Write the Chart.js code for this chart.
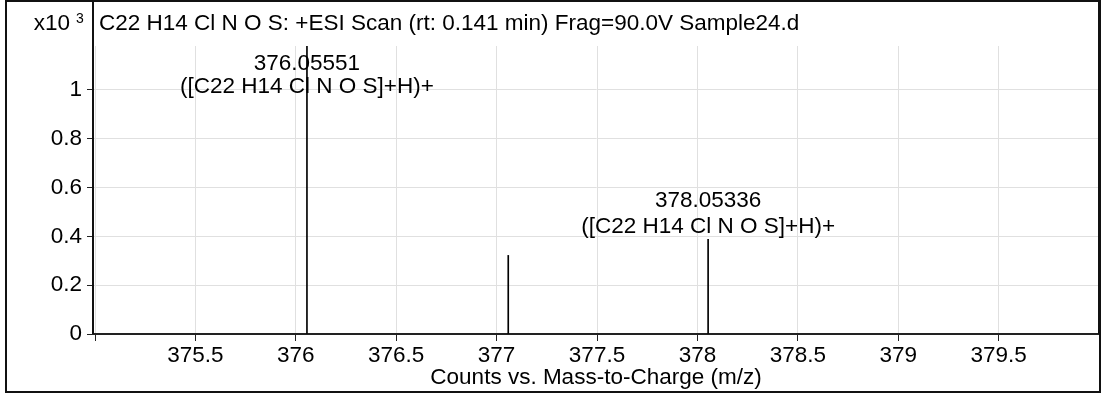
<!DOCTYPE html>
<html>
<head>
<meta charset="utf-8">
<title>+ESI Scan Sample24.d</title>
<script src="https://cdn.jsdelivr.net/npm/chart.js@4/dist/chart.umd.min.js"></script>
<style>
  html, body { margin: 0; padding: 0; background: #fff; }
  canvas { display: block; }
</style>
</head>
<body>
<canvas id="spectrum" width="1102" height="396"></canvas>
<script>
// Centroid peaks: m/z and abundance (counts, x10^3)
const peakMz = [376.05551, 377.058, 378.05336];
const peakCounts = [1.18, 0.322, 0.388];
const peakLabels = [
  ['376.05551', '([C22 H14 Cl N O S]+H)+'],
  null,
  ['378.05336', '([C22 H14 Cl N O S]+H)+']
];

// Axis ticks
const xTicks = [375, 375.5, 376, 376.5, 377, 377.5, 378, 378.5, 379, 379.5, 380];
const xTickLabels = ['', '375.5', '376', '376.5', '377', '377.5', '378', '378.5', '379', '379.5', ''];
const yTicks = [0, 0.2, 0.4, 0.6, 0.8, 1];
const yTickLabels = ['0', '0.2', '0.4', '0.6', '0.8', '1'];
const xMin = 374.99;
const xMax = 380;
const yMax = 1.18;

// Texts
const scanTitle = 'C22 H14 Cl N O S: +ESI Scan (rt: 0.141 min) Frag=90.0V Sample24.d';
const xAxisTitle = 'Counts vs. Mass-to-Charge (m/z)';
const yMultiplier = ['x10', '3'];

const FONT = "'Liberation Sans', Arial, Helvetica, sans-serif";
const FONT_SIZE = 22.5;

// Frame, header text and peak annotations
const decorations = {
  id: 'decorations',
  afterDraw(chart) {
    const { ctx, chartArea: a, scales: { x, y } } = chart;
    ctx.save();

    // outer box
    ctx.strokeStyle = '#111';
    ctx.lineWidth = 2;
    ctx.strokeRect(6, 1, 1094, 391);

    // plot box sides running up through the header band
    ctx.beginPath();
    ctx.moveTo(a.left, 1); ctx.lineTo(a.left, a.bottom);
    ctx.moveTo(a.right, 1); ctx.lineTo(a.right, a.bottom);
    ctx.stroke();

    // header
    ctx.fillStyle = '#000';
    ctx.textBaseline = 'alphabetic';
    ctx.textAlign = 'left';
    ctx.font = FONT_SIZE + 'px ' + FONT;
    ctx.fillText(scanTitle, a.left + 6, 30);

    // y multiplier
    ctx.textAlign = 'right';
    ctx.font = FONT_SIZE + 'px ' + FONT;
    ctx.fillText(yMultiplier[0], 70, 30);
    ctx.textAlign = 'left';
    ctx.font = '14px ' + FONT;
    ctx.fillText(yMultiplier[1], 76, 23);

    // peak labels
    ctx.font = FONT_SIZE + 'px ' + FONT;
    ctx.textAlign = 'center';
    peakLabels.forEach((lines, i) => {
      if (!lines) return;
      const px = x.getPixelForValue(peakMz[i]);
      const top = Math.max(y.getPixelForValue(peakCounts[i]), a.top);
      let b2 = top - 6;
      let b1 = b2 - 26;
      if (b1 - 17 < a.top) {
        b1 = a.top + 24;
        b2 = b1 + 23;
      }
      ctx.fillText(lines[0], px, b1);
      ctx.fillText(lines[1], px, b2);
    });

    ctx.restore();
  }
};

new Chart(document.getElementById('spectrum'), {
  type: 'bar',
  data: {
    datasets: [{
      data: peakMz.map((mz, i) => ({ x: mz, y: peakCounts[i] })),
      backgroundColor: '#000',
      borderWidth: 0,
      barThickness: 1
    }]
  },
  options: {
    responsive: false,
    animation: false,
    devicePixelRatio: 1,
    layout: { padding: { left: 0, right: 3, top: 46, bottom: 0 } },
    plugins: { legend: { display: false }, tooltip: { enabled: false } },
    scales: {
      x: {
        type: 'linear',
        min: xMin,
        max: xMax,
        offset: false,
        grid: { color: '#e0e0e0', tickColor: '#222', tickLength: 7, offset: false },
        border: { color: '#222', width: 2 },
        afterBuildTicks: s => { s.ticks = xTicks.map(v => ({ value: v })); },
        ticks: {
          autoSkip: false,
          maxRotation: 0,
          padding: 1,
          color: '#000',
          font: { family: FONT, size: FONT_SIZE },
          callback: (v) => xTickLabels[xTicks.indexOf(v)] ?? ''
        },
        title: {
          display: true,
          text: xAxisTitle,
          color: '#000',
          font: { family: FONT, size: FONT_SIZE },
          padding: { top: 0, bottom: 5 }
        },
        afterFit: s => { s.height = 62; }
      },
      y: {
        min: 0,
        max: yMax,
        grid: { color: '#e0e0e0', tickColor: '#222', tickLength: 6 },
        border: { color: '#222', width: 2 },
        afterBuildTicks: s => { s.ticks = yTicks.map(v => ({ value: v })); },
        ticks: {
          padding: 5,
          color: '#000',
          font: { family: FONT, size: FONT_SIZE },
          callback: (v) => yTickLabels[yTicks.indexOf(v)] ?? ''
        },
        afterFit: s => { s.width = 93; }
      }
    }
  },
  plugins: [decorations]
});
</script>
</body>
</html>
